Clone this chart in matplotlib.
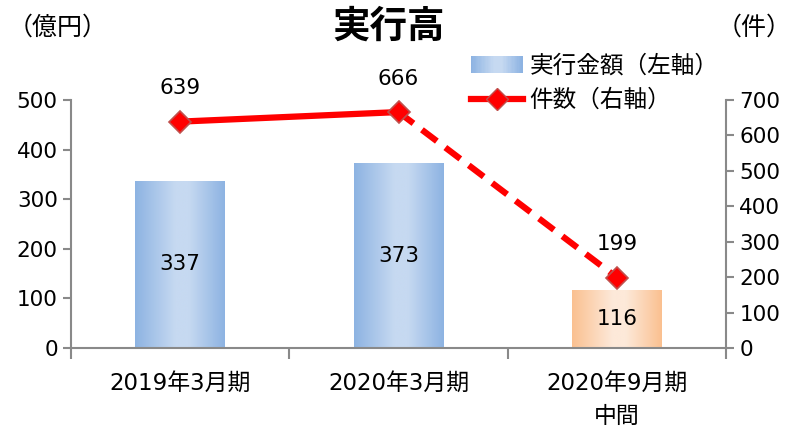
import numpy as np
import matplotlib.pyplot as plt
from matplotlib.patches import Rectangle
from matplotlib.colors import LinearSegmentedColormap
from matplotlib.legend_handler import HandlerBase
from matplotlib.lines import Line2D

plt.rcParams['font.family'] = ['DejaVu Sans', 'Noto Sans CJK JP']

categories = ["2019年3月期", "2020年3月期", "2020年9月期\n中間"]
amounts = [337, 373, 116]      # 実行金額 (億円)
counts = [639, 666, 199]       # 件数
left_ticks = [0, 100, 200, 300, 400, 500]
right_ticks = [0, 100, 200, 300, 400, 500, 600, 700]

blue_cmap = LinearSegmentedColormap.from_list(
    "blue", [(0, "#8db3e2"), (0.45, "#c6d9f1"), (0.6, "#c6d9f1"), (1, "#8db3e2")])
orange_cmap = LinearSegmentedColormap.from_list(
    "orange", [(0, "#fac090"), (0.45, "#fde9d9"), (0.6, "#fde9d9"), (1, "#fac090")])
grad = np.linspace(0, 1, 256).reshape(1, -1)
fs = 15.5

fig = plt.figure(figsize=(7.94, 4.30), dpi=100)
ax = fig.add_axes([0.0894, 0.1907, 0.825, 0.5767])
ax2 = ax.twinx()

x = np.arange(len(categories))
width = 0.41
for i, v in enumerate(amounts):
    cmap = orange_cmap if i == 2 else blue_cmap
    im = ax.imshow(grad, cmap=cmap, aspect='auto',
                   extent=(x[i] - width / 2, x[i] + width / 2, 0, v), zorder=2)
    rect = Rectangle((x[i] - width / 2, 0), width, v, transform=ax.transData,
                     facecolor='none', edgecolor='none')
    ax.add_patch(rect)
    im.set_clip_path(rect)
    ax.text(x[i], v / 2, str(v), ha='center', va='center', fontsize=fs, zorder=3)

ax.set_xlim(-0.5, 2.5)
ax.set_ylim(0, 500)
ax.set_yticks(left_ticks)
ax2.set_ylim(0, 700)
ax2.set_yticks(right_ticks)

# line: solid for the first segment, dashed for the last
ax2.plot(x[:2], counts[:2], color='#ff0000', lw=4.5, solid_capstyle='round', zorder=4)
ax2.plot(x[1:], counts[1:], color='#ff0000', lw=4.5, ls=(0, (3, 1.7)), zorder=4)
ax2.plot(x, counts, ls='none', marker='D', ms=11, mfc='#ff0000', mec='#c0504d',
         mew=1.2, zorder=5)
for xi, c in zip(x, counts):
    ax2.annotate(str(c), (xi, c), xytext=(0, 24), textcoords='offset points',
                 ha='center', va='center', fontsize=fs)

spine_c = '#898989'
for a in (ax, ax2):
    for s in a.spines.values():
        s.set_visible(False)
    a.tick_params(colors=spine_c, labelcolor='black', labelsize=fs, width=1.5, length=6)
ax.spines['left'].set_visible(True)
ax.spines['bottom'].set_visible(True)
ax2.spines['right'].set_visible(True)
for s in (ax.spines['left'], ax.spines['bottom'], ax2.spines['right']):
    s.set_color(spine_c)
    s.set_linewidth(1.5)

ax.set_xticks([-0.5, 0.5, 1.5, 2.5])
ax.set_xticklabels([])
ax.set_xticks(x, minor=True)
ax.set_xticklabels(categories, minor=True, fontsize=16.5, linespacing=1.55, va='top')
ax.tick_params(axis='x', which='minor', length=0, pad=17)
ax.tick_params(axis='x', which='major', length=8)


class GradientHandler(HandlerBase):
    def create_artists(self, legend, orig_handle, xdescent, ydescent, width, height,
                       fontsize, trans):
        n = 40
        arts = []
        for k in range(n):
            r = Rectangle((-xdescent + width * k / n, -ydescent), width / n + 0.3, height,
                          facecolor=blue_cmap(k / (n - 1)), edgecolor='none', transform=trans)
            arts.append(r)
        return arts


bar_handle = Rectangle((0, 0), 1, 1)
line_handle = Line2D([], [], color='#ff0000', lw=4.5, marker='D', ms=11,
                     mfc='#ff0000', mec='#c0504d')
fig.legend([bar_handle, line_handle], ["実行金額（左軸）", "件数（右軸）"],
           handler_map={Rectangle: GradientHandler()},
           loc='upper left', bbox_to_anchor=(0.566, 0.925), frameon=False,
           fontsize=17, handlelength=2.2, handletextpad=0.3, labelspacing=0.45)

fig.text(0.49, 0.935, "実行高", ha='center', va='center', fontsize=27, fontweight='bold')
fig.text(0.01, 0.935, "（億円）", ha='left', va='center', fontsize=18)
fig.text(0.997, 0.935, "（件）", ha='right', va='center', fontsize=18)

fig.savefig("out.png", dpi=100)
